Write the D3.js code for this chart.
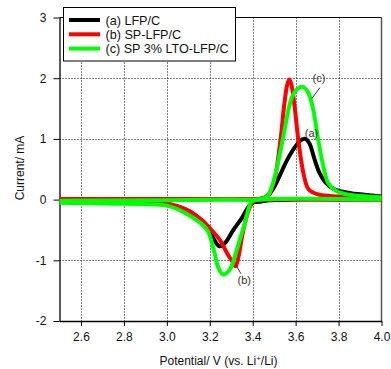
<!DOCTYPE html>
<html>
<head>
<meta charset="utf-8">
<script src="https://cdn.jsdelivr.net/npm/d3@7"></script>
<style>
  html, body { margin: 0; padding: 0; background: #fff; }
  svg { display: block; font-family: "Liberation Sans", Arial, Helvetica, sans-serif; }
</style>
</head>
<body>
<svg id="chart" width="391" height="369"></svg>
<script>
// Cyclic voltammograms: [potential (V vs. Li+/Li), current (mA)]
const seriesNames = ["(a) LFP/C", "(b) SP-LFP/C", "(c) SP 3% LTO-LFP/C"];
const seriesColors = ["#000000", "#ff0000", "#00ff00"];

// Oxidation (forward) sweeps
const lfpAnodic = [[2.5,-0.005],[3.0,0.0],[3.3,0.005],[3.43,0.01],[3.46,0.04],[3.49,0.15],[3.52,0.35],[3.56,0.65],[3.60,0.88],[3.625,0.98],[3.645,1.0],[3.665,0.92],[3.685,0.7],[3.71,0.45],[3.74,0.28],[3.78,0.17],[3.85,0.11],[3.92,0.08],[4.0,0.05]];
const spAnodic = [[2.5,0.01],[3.0,0.01],[3.3,0.01],[3.44,0.015],[3.47,0.05],[3.50,0.3],[3.53,1.0],[3.545,1.5],[3.56,1.88],[3.57,1.98],[3.58,1.9],[3.597,1.48],[3.612,1.0],[3.636,0.44],[3.66,0.17],[3.70,0.09],[3.8,0.05],[4.0,0.03]];
const ltoAnodic = [[2.5,-0.02],[3.0,-0.01],[3.3,0.0],[3.44,0.01],[3.47,0.06],[3.49,0.22],[3.51,0.48],[3.543,1.04],[3.574,1.59],[3.597,1.78],[3.633,1.857],[3.659,1.76],[3.682,1.48],[3.705,0.99],[3.729,0.55],[3.752,0.27],[3.79,0.14],[3.85,0.08],[4.0,0.04]];

// Reduction (reverse) sweeps
const lfpCathodic = [[2.5,-0.03],[2.8,-0.05],[3.0,-0.08],[3.08,-0.15],[3.14,-0.28],[3.19,-0.45],[3.22,-0.66],[3.245,-0.77],[3.27,-0.72],[3.31,-0.5],[3.35,-0.3],[3.38,-0.12],[3.40,-0.05],[3.44,-0.03],[3.48,-0.01],[3.6,0.0],[4.0,0.0]];
const spCathodic = [[2.5,-0.01],[2.8,-0.03],[3.0,-0.06],[3.1,-0.18],[3.16,-0.33],[3.2,-0.47],[3.25,-0.68],[3.28,-0.88],[3.305,-1.02],[3.32,-1.1],[3.335,-0.92],[3.35,-0.62],[3.37,-0.3],[3.39,-0.1],[3.41,-0.02],[3.5,0.0],[4.0,0.0]];
const ltoCathodic = [[2.5,-0.05],[2.8,-0.07],[3.0,-0.1],[3.1,-0.25],[3.186,-0.49],[3.216,-0.79],[3.24,-1.12],[3.263,-1.235],[3.294,-1.15],[3.317,-0.93],[3.34,-0.66],[3.364,-0.38],[3.38,-0.16],[3.396,-0.03],[3.45,0.0],[4.0,0.0]];

const xTicks = [2.6, 2.8, 3.0, 3.2, 3.4, 3.6, 3.8, 4.0];
const yTicks = [-2, -1, 0, 1, 2, 3];

const series = [
  { anodic: lfpAnodic, cathodic: lfpCathodic },
  { anodic: spAnodic, cathodic: spCathodic },
  { anodic: ltoAnodic, cathodic: ltoCathodic }
];

const svg = d3.select("#chart");
const plotL = 59.5, plotR = 381.5, plotT = 17.5, plotB = 321;

const x = d3.scaleLinear().domain([2.5, 4.0]).range([plotL, plotR]);
const y = d3.scaleLinear().domain([-2, 3]).range([plotB, plotT]);

// dotted grid
const grid = svg.append("g").attr("stroke", "#000").attr("stroke-width", 1)
  .attr("stroke-dasharray", "1,2").attr("fill", "none");
xTicks.filter(v => v < 4.0).forEach(v => {
  grid.append("line").attr("x1", Math.round(x(v)) + 0.5).attr("x2", Math.round(x(v)) + 0.5)
    .attr("y1", plotT).attr("y2", plotB);
});
yTicks.filter(v => v > -2 && v < 3).forEach(v => {
  grid.append("line").attr("y1", Math.round(y(v)) + 0.5).attr("y2", Math.round(y(v)) + 0.5)
    .attr("x1", plotL).attr("x2", plotR);
});

// frame
svg.append("line").attr("x1", plotL).attr("x2", plotR).attr("y1", plotT).attr("y2", plotT)
  .attr("stroke", "#000").attr("stroke-width", 1);
svg.append("line").attr("x1", plotR).attr("x2", plotR).attr("y1", plotT).attr("y2", plotB)
  .attr("stroke", "#555").attr("stroke-width", 1.5);

// axes
const xAxis = svg.append("g").attr("transform", `translate(0,${plotB})`)
  .call(d3.axisBottom(x).tickValues(xTicks).tickFormat(d => d.toFixed(1)).tickSize(5).tickPadding(6).tickSizeOuter(0));
const yAxis = svg.append("g").attr("transform", `translate(${plotL},0)`)
  .call(d3.axisLeft(y).tickValues(yTicks).tickFormat(d => String(d)).tickSize(6).tickPadding(7).tickSizeOuter(0));
[xAxis, yAxis].forEach(g => {
  g.select(".domain").attr("stroke", "#000").attr("stroke-width", 1.3);
  g.selectAll(".tick line").attr("stroke", "#000");
  g.selectAll(".tick text").attr("font-size", 12).attr("fill", "#111")
    .attr("font-family", "'Liberation Sans', Arial, sans-serif");
});

// curves
const line = d3.line().x(d => x(d[0])).y(d => y(d[1])).curve(d3.curveCatmullRom.alpha(0.5));
const curves = svg.append("g").attr("fill", "none").attr("stroke-width", 4)
  .attr("stroke-linejoin", "round").attr("stroke-linecap", "butt");
series.forEach((s, i) => {
  curves.append("path").attr("d", line(s.anodic)).attr("stroke", seriesColors[i]);
  curves.append("path").attr("d", line(s.cathodic)).attr("stroke", seriesColors[i]);
});

// peak labels
const notes = svg.append("g").attr("font-size", 11).attr("fill", "#333");
notes.append("text").attr("x", x(3.709)).attr("y", y(2.0) + 4).attr("text-anchor", "middle").text("(c)");
notes.append("line").attr("x1", x(3.713)).attr("y1", y(1.845)).attr("x2", x(3.675)).attr("y2", y(1.66))
  .attr("stroke", "#333").attr("stroke-width", 1);
notes.append("text").attr("x", x(3.674)).attr("y", y(1.09) + 4).attr("text-anchor", "middle").text("(a)");
notes.append("text").attr("x", x(3.361)).attr("y", y(-1.32) + 4).attr("text-anchor", "middle").text("(b)");
notes.append("line").attr("x1", x(3.345)).attr("y1", y(-1.22)).attr("x2", x(3.324)).attr("y2", y(-1.09))
  .attr("stroke", "#333").attr("stroke-width", 1);

// legend
const legend = svg.append("g");
legend.append("rect").attr("x", 63.5).attr("y", 7.5).attr("width", 172).attr("height", 53.5)
  .attr("fill", "#fff").attr("stroke", "#000").attr("stroke-width", 1);
seriesNames.forEach((name, i) => {
  const cy = 20 + i * 14.3;
  legend.append("line").attr("x1", 69).attr("x2", 100).attr("y1", cy).attr("y2", cy)
    .attr("stroke", seriesColors[i]).attr("stroke-width", 4);
  legend.append("text").attr("x", 105.5).attr("y", cy + 4.5).attr("font-size", 12.6).attr("fill", "#111").text(name);
});

// axis titles
const xt = svg.append("text").attr("x", 218.5).attr("y", 365).attr("text-anchor", "middle")
  .attr("font-size", 12).attr("fill", "#111");
xt.append("tspan").text("Potential/ V (vs. Li");
xt.append("tspan").attr("dy", -4).attr("font-size", 8).text("+");
xt.append("tspan").attr("dy", 4).text("/Li)");

svg.append("text").attr("transform", "translate(24,168) rotate(-90)").attr("text-anchor", "middle")
  .attr("font-size", 12).attr("fill", "#111").text("Current/ mA");
</script>
</body>
</html>
